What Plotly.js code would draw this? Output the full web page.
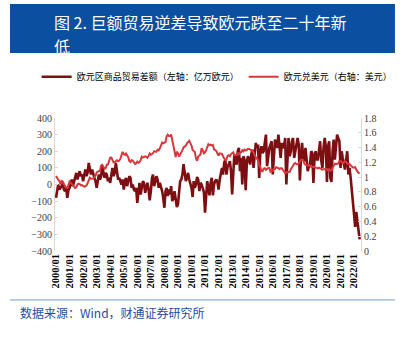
<!DOCTYPE html>
<html><head><meta charset="utf-8">
<script src="https://cdn.plot.ly/plotly-3.0.1.min.js"></script>
<style>html,body{margin:0;padding:0;background:#fff;}#chart{width:407px;height:339px;}</style>
</head><body><div id="chart"></div>
<script>
// Euro area goods trade balance (left axis), monthly from 2000/01
var trade2000 = [-80,-20,0,-30,-20,-10,10,-30,-40,-20,-80,-35];
var trade2001 = [-20,10,30,-10,20,40,70,30,60,80,50,60];
var trade2002 = [20,60,90,50,70,130,100,60,90,60,40,20];
var trade2003 = [-20,20,60,30,50,110,80,40,70,60,20,40];
var trade2004 = [10,60,100,50,70,130,80,30,40,20,0,30];
var trade2005 = [-30,20,40,-10,20,50,40,-20,0,-30,-40,-20];
var trade2006 = [-110,-40,10,-60,-30,20,10,-50,-20,10,-30,-95];
var trade2007 = [-40,40,60,-10,20,50,30,-20,10,-10,-40,-80];
var trade2008 = [-140,-40,-20,-70,-30,-60,-10,-100,-80,-40,-100,-135];
var trade2009 = [-120,-60,20,30,60,122,80,20,40,70,30,10];
var trade2010 = [-20,-75,20,-20,0,45,30,-40,10,0,-30,-45];
var trade2011 = [-170,-30,20,-20,-65,10,40,-65,0,20,30,15];
var trade2012 = [-30,30,80,100,60,130,150,60,110,120,140,80];
var trade2013 = [-60,100,180,140,120,200,220,80,160,0,170,150];
var trade2014 = [-35,130,170,150,120,180,210,100,160,250,220,240];
var trade2015 = [40,200,230,190,200,260,300,110,180,220,240,260];
var trade2016 = [60,180,270,250,220,300,240,160,250,220,230,280];
var trade2017 = [0,180,280,170,200,260,280,160,210,230,280,240];
var trade2018 = [25,170,250,160,140,220,150,80,110,120,200,190];
var trade2019 = [10,170,200,150,150,200,260,140,100,220,280,230];
var trade2020 = [15,230,260,40,15,200,270,150,260,300,280,260];
var trade2021 = [100,200,160,130,90,150,200,60,100,40,-45,-125];
var trade2022 = [-225,-255,-165,-225,-300,-330];

// EUR/USD (right axis), monthly from 2000/01
var fx2000 = [1.014,0.983,0.964,0.947,0.906,0.949,0.940,0.904,0.872,0.855,0.856,0.897];
var fx2001 = [0.938,0.922,0.910,0.892,0.874,0.853,0.861,0.900,0.911,0.906,0.888,0.892];
var fx2002 = [0.883,0.870,0.876,0.886,0.917,0.955,0.992,0.978,0.981,0.981,1.001,1.018];
var fx2003 = [1.062,1.077,1.081,1.085,1.158,1.166,1.137,1.114,1.122,1.169,1.170,1.229];
var fx2004 = [1.263,1.264,1.226,1.198,1.200,1.214,1.227,1.217,1.222,1.249,1.299,1.341];
var fx2005 = [1.312,1.301,1.319,1.294,1.270,1.216,1.204,1.229,1.224,1.202,1.179,1.186];
var fx2006 = [1.210,1.194,1.203,1.227,1.277,1.265,1.268,1.281,1.273,1.262,1.288,1.321];
var fx2007 = [1.300,1.308,1.324,1.352,1.351,1.342,1.372,1.362,1.390,1.423,1.468,1.457];
var fx2008 = [1.472,1.475,1.552,1.575,1.556,1.556,1.577,1.497,1.437,1.333,1.273,1.345];
var fx2009 = [1.324,1.278,1.305,1.319,1.365,1.401,1.409,1.427,1.456,1.482,1.491,1.460];
var fx2010 = [1.427,1.368,1.357,1.341,1.256,1.221,1.277,1.289,1.307,1.390,1.366,1.322];
var fx2011 = [1.336,1.365,1.400,1.445,1.432,1.439,1.428,1.434,1.377,1.371,1.356,1.318];
var fx2012 = [1.291,1.322,1.320,1.316,1.279,1.253,1.229,1.240,1.286,1.297,1.283,1.312];
var fx2013 = [1.330,1.335,1.296,1.302,1.298,1.320,1.308,1.331,1.335,1.364,1.349,1.371];
var fx2014 = [1.362,1.366,1.383,1.381,1.373,1.359,1.354,1.332,1.290,1.267,1.247,1.233];
var fx2015 = [1.162,1.135,1.083,1.078,1.115,1.121,1.100,1.114,1.123,1.124,1.074,1.088];
var fx2016 = [1.087,1.109,1.110,1.134,1.131,1.123,1.107,1.121,1.121,1.103,1.080,1.054];
var fx2017 = [1.063,1.065,1.069,1.072,1.106,1.124,1.153,1.181,1.191,1.176,1.174,1.184];
var fx2018 = [1.220,1.235,1.234,1.228,1.181,1.168,1.169,1.155,1.166,1.148,1.137,1.138];
var fx2019 = [1.142,1.135,1.130,1.124,1.118,1.129,1.122,1.113,1.100,1.105,1.105,1.111];
var fx2020 = [1.110,1.091,1.106,1.087,1.090,1.125,1.146,1.183,1.179,1.177,1.184,1.217];
var fx2021 = [1.217,1.210,1.190,1.195,1.215,1.205,1.182,1.177,1.177,1.160,1.141,1.130];
var fx2022 = [1.131,1.134,1.101,1.082,1.057,1.057];

var tickYears = [2000,2001,2002,2003,2004,2005,2006,2007,2008,2009,2010,2011,2012,2013,2014,2015,2016,2017,2018,2019,2020,2021,2022];
var tickLabels = ["2000/01","2001/01","2002/01","2003/01","2004/01","2005/01","2006/01","2007/01","2008/01","2009/01","2010/01","2011/01","2012/01","2013/01","2014/01","2015/01","2016/01","2017/01","2018/01","2019/01","2020/01","2021/01","2022/01"];

var titleLine1 = "图 2. 巨额贸易逆差导致欧元跌至二十年新";
var titleLine2 = "低";
var sourceText = "数据来源：Wind，财通证券研究所";
var tradeName = "欧元区商品贸易差额（左轴：亿万欧元）";
var fxName = "欧元兑美元（右轴：美元）";

var tradeAll = [].concat(trade2000,trade2001,trade2002,trade2003,trade2004,trade2005,trade2006,trade2007,trade2008,trade2009,trade2010,trade2011,trade2012,trade2013,trade2014,trade2015,trade2016,trade2017,trade2018,trade2019,trade2020,trade2021,trade2022);
var fxAll = [].concat(fx2000,fx2001,fx2002,fx2003,fx2004,fx2005,fx2006,fx2007,fx2008,fx2009,fx2010,fx2011,fx2012,fx2013,fx2014,fx2015,fx2016,fx2017,fx2018,fx2019,fx2020,fx2021,fx2022);

function monthDates(n){
  var out=[];
  for(var i=0;i<n;i++){
    var y=2000+Math.floor(i/12), m=(i%12)+1;
    out.push(y+"-"+(m<10?"0"+m:m)+"-01");
  }
  return out;
}
var tickVals = tickYears.map(function(y){return y+"-01-01";});

var cjk = "Noto Sans CJK SC, sans-serif";
var serif = "Liberation Serif, Times New Roman, serif";

var traces = [
  {x: monthDates(tradeAll.length), y: tradeAll, type:"scatter", mode:"lines", name: tradeName,
   line:{color:"#7d0f12", width:2.6}, yaxis:"y"},
  {x: monthDates(fxAll.length), y: fxAll, type:"scatter", mode:"lines", name: fxName,
   line:{color:"#d8383b", width:2}, yaxis:"y2"}
];

var layout = {
  width:407, height:339,
  margin:{l:55, r:46, t:118, b:88, pad:0},
  paper_bgcolor:"#ffffff", plot_bgcolor:"#ffffff",
  showlegend:true,
  legend:{orientation:"h", x:-0.06, xanchor:"left", y:1.31, yanchor:"middle",
    font:{family:cjk, size:9, color:"#000"}, itemwidth:30, traceorder:"normal", bgcolor:"rgba(0,0,0,0)"},
  xaxis:{type:"date", range:["1999-12-05","2022-07-07"], tickvals:tickVals, ticktext:tickLabels,
    tickangle:-90, tickfont:{family:serif, size:10.5, color:"#000", weight:"bold"}, showgrid:false,
    showline:false, ticks:"", zeroline:false, fixedrange:true},
  yaxis:{range:[-400,400], dtick:100, tick0:0, showgrid:false, zeroline:false, showline:true,
    linecolor:"#d9d9d9", linewidth:1, ticks:"inside", ticklen:3, tickcolor:"#d9d9d9",
    tickfont:{family:serif, size:10, color:"#404040"}},
  yaxis2:{range:[0,1.8], dtick:0.2, tick0:0, overlaying:"y", side:"right", showgrid:false, zeroline:false,
    showline:true, linecolor:"#d9d9d9", linewidth:1, ticks:"inside", ticklen:3, tickcolor:"#d9d9d9",
    tickfont:{family:serif, size:10, color:"#404040"}},
  shapes:[
    {type:"rect", xref:"paper", yref:"paper", x0:-0.147, x1:1.111, y0:1.489, y1:1.857,
     fillcolor:"#0b4fa0", line:{width:0}, layer:"below"},
    {type:"line", xref:"paper", yref:"paper", x0:-0.147, x1:1.111, y0:-0.368, y1:-0.368,
     line:{color:"#6f9fd3", width:1}}
  ],
  annotations:[
    {text:titleLine1, xref:"paper", yref:"paper", x:(52-55)/306, xanchor:"left",
     y:(251-22)/133, yanchor:"middle", showarrow:false, font:{family:cjk, size:16, color:"#ffffff"}},
    {text:titleLine2, xref:"paper", yref:"paper", x:(52-55)/306, xanchor:"left",
     y:(251-46)/133, yanchor:"middle", showarrow:false, font:{family:cjk, size:16, color:"#ffffff"}},
    {text:sourceText, xref:"paper", yref:"paper", x:(18-55)/306, xanchor:"left",
     y:-0.466, yanchor:"middle", showarrow:false, font:{family:cjk, size:12, color:"#1f4e9e"}}
  ]
};

Plotly.newPlot("chart", traces, layout, {displayModeBar:false, staticPlot:true});
</script></body></html>
